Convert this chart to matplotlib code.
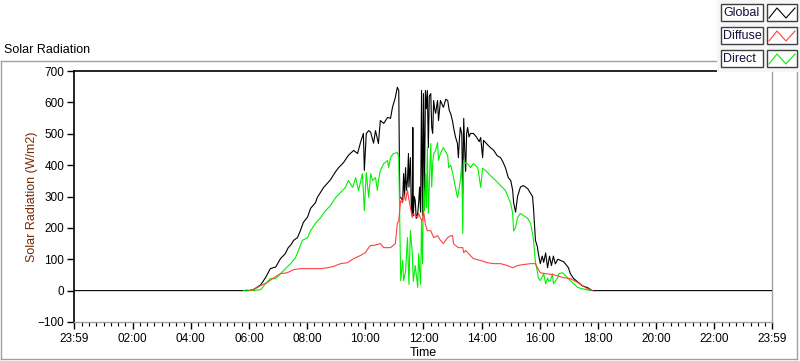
import matplotlib
matplotlib.use("Agg")
import matplotlib.pyplot as plt
from matplotlib.lines import Line2D
from matplotlib.patches import Rectangle

plt.rcParams['font.family'] = ['Liberation Sans', 'DejaVu Sans']

# minutes of the day and W/m2
global_min = [-1, 360, 369, 384, 394, 404, 410, 415, 425, 435, 441, 446, 452, 460, 466, 472, 481, 487,
              497, 501, 514, 528, 539, 545, 555, 565, 576, 584, 590, 596, 598, 602, 607, 611, 617, 621,
              627, 631, 638, 646, 652, 656, 662, 666, 669, 671, 673, 677, 679, 681, 683, 685, 687, 689,
              690, 691, 693, 695, 697, 698, 699, 701, 703, 705, 708, 710, 712, 714, 716, 718, 720, 722,
              724, 726, 728, 730, 732, 735, 737, 739, 741, 743, 745, 749, 751, 755, 761, 766, 770, 773,
              776, 780, 782, 786, 790, 792, 794, 796, 799, 801, 803, 805, 807, 809, 811, 814, 817, 823,
              829, 835, 838, 842, 844, 852, 858, 865, 872, 879, 884, 889, 895, 900, 904, 906, 910, 914,
              920, 926, 935, 941, 945, 947, 951, 955, 957, 961, 965, 968, 972, 976, 980, 984, 988, 992,
              997, 1003, 1009, 1013, 1019, 1023, 1030, 1038, 1048, 1058, 1065, 1069, 1439]
global_wm2 = [0, 0, 3, 18, 41, 70, 73, 75, 102, 118, 137, 145, 160, 169, 191, 217, 235, 262,
              280, 297, 329, 353, 380, 392, 408, 431, 447, 437, 472, 501, 383, 501, 510, 505, 470, 510,
              469, 542, 533, 552, 549, 584, 616, 648, 638, 297, 297, 287, 373, 300, 392, 320, 351, 437,
              330, 360, 424, 260, 240, 520, 239, 300, 287, 230, 245, 280, 330, 250, 638, 239, 628, 300,
              638, 580, 638, 456, 620, 628, 520, 501, 606, 580, 565, 606, 542, 606, 584, 610, 606, 575,
              565, 540, 520, 490, 469, 424, 480, 520, 500, 309, 549, 450, 380, 500, 520, 490, 501, 501,
              490, 475, 488, 424, 479, 465, 456, 447, 430, 424, 410, 392, 360, 351, 320, 280, 250, 300,
              330, 335, 325, 310, 300, 262, 160, 140, 118, 86, 110, 90, 120, 73, 110, 80, 110, 85,
              100, 96, 92, 85, 73, 54, 38, 28, 15, 10, 3, 0, 0]

diffuse_min = [363, 369, 384, 398, 411, 425, 439, 452, 466, 481, 493, 508, 522, 534, 549, 563, 576,
               590, 600, 607, 611, 617, 625, 631, 638, 646, 652, 662, 666, 669, 673, 677, 679, 683,
               687, 690, 693, 697, 699, 703, 708, 710, 714, 718, 720, 724, 728, 735, 741, 749, 755,
               761, 770, 776, 780, 782, 786, 792, 801, 803, 807, 813, 823, 838, 852, 865, 879, 893,
               904, 914, 926, 941, 951, 955, 961, 972, 988, 1009, 1023, 1038, 1048, 1058, 1069]
diffuse_wm2 = [0, 3, 16, 26, 41, 54, 57, 67, 70, 70, 70, 70, 73, 77, 86, 89, 102,
               112, 121, 137, 144, 144, 147, 150, 137, 137, 137, 150, 214, 223, 287, 280, 309, 287,
               319, 290, 265, 233, 246, 240, 233, 246, 230, 223, 255, 210, 191, 191, 169, 175, 160,
               150, 169, 175, 175, 150, 144, 137, 137, 121, 128, 118, 102, 96, 89, 86, 86, 80,
               73, 80, 83, 86, 86, 73, 57, 54, 51, 41, 38, 26, 16, 6, 0]

direct_min = [349, 353, 369, 384, 388, 394, 404, 415, 425, 435, 446, 456, 462, 470, 481, 487, 497,
              508, 518, 528, 539, 549, 559, 565, 574, 580, 586, 594, 598, 602, 607, 611, 615, 621,
              625, 627, 631, 638, 646, 648, 652, 658, 666, 669, 673, 677, 679, 683, 687, 690, 693,
              697, 699, 703, 706, 708, 710, 714, 716, 718, 720, 722, 724, 726, 728, 730, 735, 737,
              739, 741, 745, 749, 751, 755, 761, 770, 772, 776, 780, 786, 790, 792, 796, 799, 801,
              803, 807, 811, 817, 823, 832, 838, 842, 848, 858, 869, 879, 889, 895, 900, 904, 906,
              910, 914, 920, 926, 935, 941, 945, 947, 951, 955, 957, 961, 968, 972, 976, 978, 982,
              986, 988, 997, 999, 1007, 1013, 1019, 1023, 1030, 1038, 1048, 1058, 1065]
direct_wm2 = [0, 2, 0, 3, 10, 22, 38, 38, 54, 70, 86, 105, 128, 160, 169, 191, 214,
              233, 255, 271, 297, 313, 329, 351, 329, 360, 319, 373, 255, 376, 297, 373, 351, 360,
              319, 351, 383, 405, 415, 392, 424, 437, 440, 424, 32, 96, 32, 60, 169, 20, 191,
              118, 30, 80, 40, 10, 118, 20, 223, 86, 330, 255, 373, 265, 456, 246, 469, 330,
              405, 437, 447, 472, 415, 437, 456, 430, 392, 400, 376, 329, 297, 309, 351, 405, 182,
              415, 405, 405, 392, 405, 392, 329, 390, 383, 367, 351, 335, 319, 297, 278, 246, 190,
              201, 233, 246, 240, 230, 214, 182, 160, 90, 60, 40, 32, 54, 22, 40, 30, 32,
              54, 22, 41, 54, 57, 48, 38, 32, 22, 10, 6, 2, 0]

tick_pos = [-1, 120, 240, 360, 480, 600, 720, 840, 960, 1080, 1200, 1320, 1439]
tick_lab = ['23:59', '02:00', '04:00', '06:00', '08:00', '10:00', '12:00',
            '14:00', '16:00', '18:00', '20:00', '22:00', '23:59']

W, H = 800, 361


def fx(x):
    return x / W


def fy(y):
    return 1 - y / H


fig = plt.figure(figsize=(8, 3.61), dpi=100)
fig.patch.set_facecolor('white')

ax = fig.add_axes([fx(74), fy(322), (772 - 74) / W, (322 - 71) / H])
ax.plot(global_min, global_wm2, color='black', lw=0.8, zorder=3)
ax.plot(direct_min, direct_wm2, color='#00f000', lw=0.8, zorder=4)
ax.plot(diffuse_min, diffuse_wm2, color='#ff4040', lw=0.8, zorder=5)

ax.set_xlim(-1, 1439)
ax.set_ylim(-100, 700)
ax.set_yticks(range(-100, 701, 100))
ax.set_xticks(tick_pos)
ax.set_xticklabels(tick_lab)
ax.set_xticks(range(15, 1439, 15), minor=True)
ax.tick_params(axis='both', which='major', direction='out', length=5, width=1,
               labelsize=8.5, colors='black', pad=2)
ax.tick_params(axis='x', which='minor', direction='out', length=3, width=0.8, colors='black')
ax.tick_params(axis='x', which='major', pad=3)
for s in ['top', 'left']:
    ax.spines[s].set_color('black')
    ax.spines[s].set_linewidth(1.2)
for s in ['bottom', 'right']:
    ax.spines[s].set_color('#a0a0a0')
    ax.spines[s].set_linewidth(1.0)

ax.set_xlabel('Time', fontsize=9, labelpad=1)
ax.set_ylabel('Solar Radiation (W/m2)', fontsize=9, color='#7a2800')
ax.yaxis.set_label_coords((38 - 74) / 698, 0.5)

fig.text(fx(4), fy(50), 'Solar Radiation', fontsize=9, va='center', ha='left')

# outer frame of the control
frame = '#a0a0a0'
fig.add_artist(Line2D([fx(0.5), fx(717)], [fy(61), fy(61)], color=frame, lw=1))
fig.add_artist(Line2D([fx(0.5), fx(0.5)], [fy(61), fy(359)], color=frame, lw=1))
fig.add_artist(Line2D([fx(0.5), fx(797)], [fy(359), fy(359)], color=frame, lw=1))
fig.add_artist(Line2D([fx(797), fx(797)], [fy(72), fy(359)], color=frame, lw=1))

# legend panel
fig.add_artist(Rectangle((fx(717), fy(72)), (800 - 717) / W, 72 / H,
                         transform=fig.transFigure, facecolor='#f6f6f6', edgecolor='none', zorder=5))
names = ['Global', 'Diffuse', 'Direct']
colors = ['black', '#ff4040', '#00f000']
for i, (nm, c) in enumerate(zip(names, colors)):
    top = 4 + i * 23
    fig.add_artist(Rectangle((fx(721), fy(top + 17)), 42 / W, 17 / H, transform=fig.transFigure,
                             facecolor='white', edgecolor='#404040', lw=1, zorder=6))
    fig.text(fx(723), fy(top + 9), nm, fontsize=9, va='center', ha='left', color='#10103a', zorder=7)
    fig.add_artist(Rectangle((fx(767), fy(top + 17)), 30 / W, 17 / H, transform=fig.transFigure,
                             facecolor='white', edgecolor='#404040', lw=1, zorder=6))
    fig.add_artist(Line2D([fx(769), fx(777), fx(786), fx(795)],
                          [fy(top + 14), fy(top + 4), fy(top + 14), fy(top + 4)],
                          color=c, lw=0.8, zorder=7))

fig.savefig('out.png', dpi=100)
